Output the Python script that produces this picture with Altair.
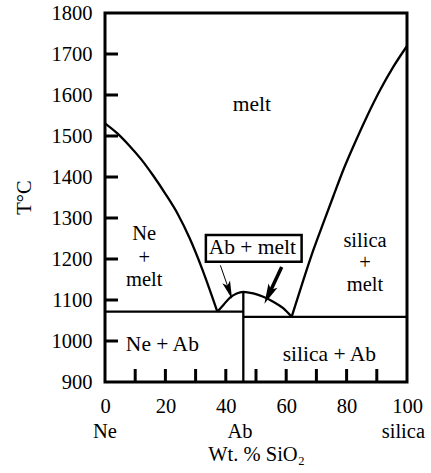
import altair as alt
import pandas as pd

FONT = "Liberation Serif, Times New Roman, serif"
LABEL_SIZE = 20.5
TEXT_SIZE = 21.5
STACK_SIZE = 20.5

# ---- data ----
left_liq_x = [0, 4, 8, 12, 16, 20, 24, 28, 32, 37.2]
left_liq_T = [1531, 1507, 1477, 1443, 1403, 1359, 1311, 1251, 1179, 1071.5]

right_liq_x = [61.8, 65.7, 69.0, 72.3, 75.6, 78.9, 82.8, 86.7, 91.1, 95.5, 100]
right_liq_T = [1059, 1149, 1222, 1288, 1353, 1417, 1484, 1547, 1612, 1669, 1719.5]

ab_liq_x = [37.2, 39.2, 41.4, 43.6, 45.8, 49.1, 52.4, 55.7, 59.0, 61.8]
ab_liq_T = [1071.5, 1088, 1106, 1116, 1120, 1116, 1108, 1096, 1080, 1059]

ab_x = 45.8
eut_ne_T = 1071.5
eut_si_T = 1059

y_tick_labels = [900, 1000, 1100, 1200, 1300, 1400, 1500, 1600, 1700, 1800]
y_inner_ticks = [1000, 1100, 1200, 1300, 1400, 1500, 1600, 1700]
x_tick_labels = [0, 20, 40, 60, 80, 100]
x_inner_ticks = [10, 20, 30, 40, 50, 60, 70, 80, 90]

comp_names = ["Ne", "Ab", "silica"]
comp_x = [0, 44.7, 98.8]

field_labels = ["melt", "Ne + Ab", "silica  + Ab"]
field_x = [48.6, 19.0, 74.3]
field_T = [1575, 990, 966]

stack_labels = ["Ne", "+", "melt", "silica", "+", "melt"]
stack_x = [13.0, 13.0, 13.0, 86.1, 86.1, 86.1]
stack_T = [1260, 1203, 1149, 1245, 1191, 1137]

box_label = "Ab + melt"
box_x = [33.4, 65.1]
box_T = [1258.5, 1193]
box_text_x = 48.8
box_text_T = 1226

thin_arrow_x = [38.2, 41.1]
thin_arrow_T = [1184.6, 1123.3]
thick_arrow_x = [58.5, 54.2]
thick_arrow_T = [1180.5, 1112.9]

# ---- scales ----
xs = alt.Scale(domain=[0, 100], nice=False, zero=False)
ys = alt.Scale(domain=[900, 1800], nice=False, zero=False)


def seg(xv, tv):
    return pd.DataFrame({"x": xv, "T": tv, "o": list(range(len(xv)))})


def line(df, width=2.3, interp="linear"):
    return alt.Chart(df).mark_line(
        color="black", strokeWidth=width, interpolate=interp, clip=False
    ).encode(
        x=alt.X("x:Q", scale=xs),
        y=alt.Y("T:Q", scale=ys),
        order="o:Q",
    )


base_axes = alt.Chart(pd.DataFrame({"x": [0], "T": [900]})).mark_point(opacity=0).encode(
    x=alt.X(
        "x:Q", scale=xs,
        axis=alt.Axis(
            values=x_tick_labels, ticks=False, domain=False, grid=False, format="d",
            labelFont=FONT, labelFontSize=LABEL_SIZE, labelColor="black", labelPadding=14,
            labelFlush=False,
            title="Wt. % SiO₂", titleFont=FONT, titleFontSize=LABEL_SIZE, titleFontWeight="normal",
            titleColor="black", titleX=151, titleY=72, titleBaseline="middle",
        ),
    ),
    y=alt.Y(
        "T:Q", scale=ys,
        axis=alt.Axis(
            values=y_tick_labels, ticks=False, domain=False, grid=False, format="d",
            labelFont=FONT, labelFontSize=LABEL_SIZE, labelColor="black", labelPadding=13,
            labelFlush=False,
            title="T°C", titleFont=FONT, titleFontSize=LABEL_SIZE, titleFontWeight="normal",
            titleColor="black", titleX=-81, titleY=184, titleAngle=270,
            titleAlign="center", titleBaseline="middle",
        ),
    ),
)

yticks = alt.Chart(pd.DataFrame({"T": y_inner_ticks})).mark_rule(
    color="black", strokeWidth=3
).encode(y=alt.Y("T:Q", scale=ys), x=alt.value(0), x2=alt.value(13))

xticks = alt.Chart(pd.DataFrame({"x": x_inner_ticks})).mark_rule(
    color="black", strokeWidth=3
).encode(x=alt.X("x:Q", scale=xs), y=alt.value(369), y2=alt.value(356))

liq_left = line(seg(left_liq_x, left_liq_T), interp="monotone")
liq_right = line(seg(right_liq_x, right_liq_T), interp="monotone")
liq_ab = line(seg(ab_liq_x, ab_liq_T), interp="monotone")
sol_left = line(seg([0, ab_x], [eut_ne_T, eut_ne_T]))
sol_right = line(seg([ab_x, 100], [eut_si_T, eut_si_T]))
ab_line = line(seg([ab_x, ab_x], [900, ab_liq_T[4]]))

box = alt.Chart(pd.DataFrame({"x": [box_x[0]], "x2": [box_x[1]], "T": [box_T[0]], "T2": [box_T[1]]})).mark_rect(
    fill="white", stroke="black", strokeWidth=2.5
).encode(x=alt.X("x:Q", scale=xs), x2="x2:Q", y=alt.Y("T:Q", scale=ys), y2="T2:Q")

box_txt = alt.Chart(pd.DataFrame({"x": [box_text_x], "T": [box_text_T], "t": [box_label]})).mark_text(
    font=FONT, fontSize=TEXT_SIZE, color="black", baseline="middle", align="center"
).encode(x=alt.X("x:Q", scale=xs), y=alt.Y("T:Q", scale=ys), text="t:N")

fields = alt.Chart(pd.DataFrame({"x": field_x, "T": field_T, "t": field_labels})).mark_text(
    font=FONT, fontSize=TEXT_SIZE, color="black", baseline="middle", align="center"
).encode(x=alt.X("x:Q", scale=xs), y=alt.Y("T:Q", scale=ys), text="t:N")

stacks = alt.Chart(pd.DataFrame({"x": stack_x, "T": stack_T, "t": stack_labels})).mark_text(
    font=FONT, fontSize=STACK_SIZE, color="black", baseline="middle", align="center"
).encode(x=alt.X("x:Q", scale=xs), y=alt.Y("T:Q", scale=ys), text="t:N")

comps = alt.Chart(pd.DataFrame({"x": comp_x, "t": comp_names})).mark_text(
    font=FONT, fontSize=LABEL_SIZE, color="black", baseline="middle", align="center", clip=False
).encode(x=alt.X("x:Q", scale=xs), y=alt.value(418.5), text="t:N")

thin_line = line(seg(thin_arrow_x, thin_arrow_T), width=1)
thick_line = line(seg(thick_arrow_x, thick_arrow_T), width=3.5)

thin_head = alt.Chart(pd.DataFrame({"x": [thin_arrow_x[1]], "T": [thin_arrow_T[1]]})).mark_point(
    shape="M0,-1L-0.45,1L0,0.55L0.45,1Z", filled=True, color="black", opacity=1,
    size=324, angle=160.9
).encode(x=alt.X("x:Q", scale=xs), y=alt.Y("T:Q", scale=ys))

thick_head = alt.Chart(pd.DataFrame({"x": [thick_arrow_x[1]], "T": [thick_arrow_T[1]]})).mark_point(
    shape="M0,-1L-0.5,1L0,0.55L0.5,1Z", filled=True, color="black", opacity=1,
    size=400, angle=205.4
).encode(x=alt.X("x:Q", scale=xs), y=alt.Y("T:Q", scale=ys))

chart = alt.layer(
    base_axes, yticks, xticks,
    liq_left, liq_right, liq_ab, sol_left, sol_right, ab_line,
    thin_line, thick_line, thin_head, thick_head,
    box, box_txt, fields, stacks, comps,
).properties(
    width=302, height=369,
    autosize=alt.AutoSizeParams(type="none"),
    padding={"left": 105, "top": 13, "right": 24, "bottom": 91},
    background="white",
).configure(
    font=FONT
).configure_axis(
    labelFont=FONT, titleFont=FONT
).configure_text(
    font=FONT
).configure_view(stroke="black", strokeWidth=3)

chart.save("out.html", embed_options={"renderer": "svg", "actions": False})
